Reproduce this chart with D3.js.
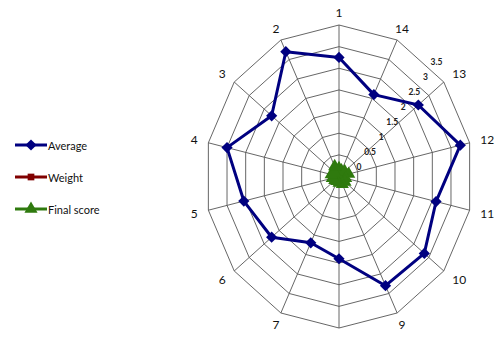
<html>
<head>
<script src="https://cdnjs.cloudflare.com/ajax/libs/d3/7.8.5/d3.min.js"></script>
<style>
  body { margin: 0; background: #fff; }
  text { font-family: Lato, "Open Sans", sans-serif; }
</style>
</head>
<body>
<svg id="chart" width="495" height="337"></svg>
<script>
// axis order: 1 at top, going clockwise 14,13,...,2
var axes = ["1","14","13","12","11","10","9","8","7","6","5","4","3","2"];
// values listed in the same order as axes
var average    = [2.75, 2.1, 2.65, 3.25, 2.6, 2.85, 2.8, 1.9, 1.7, 2.25, 2.55, 3.0, 2.25, 3.2];
var weight     = [0.07, 0.07, 0.07, 0.08, 0.07, 0.07, 0.07, 0.08, 0.07, 0.06, 0.07, 0.07, 0.07, 0.08];
var finalScore = [0.19, 0.15, 0.19, 0.26, 0.18, 0.2, 0.2, 0.15, 0.12, 0.14, 0.18, 0.21, 0.16, 0.26];
var ticks = [0, 0.5, 1, 1.5, 2, 2.5, 3, 3.5];
var seriesNames = ["Average", "Weight", "Final score"];
var seriesColors = ["#000080", "#800000", "#2f7a0e"];

var W = 495, H = 337;
var svg = d3.select("#chart");
var cx = 339, cy = 176.5;

// plot area is a bit squeezed horizontally
var rx = d3.scaleLinear().domain([0, 3.5]).range([0, 134]);
var ry = d3.scaleLinear().domain([0, 3.5]).range([0, 151.5]);
var angle = d3.scaleLinear().domain([0, axes.length]).range([0, 2 * Math.PI]);

function px(i, v) { return cx + rx(v) * Math.sin(angle(i)); }
function py(i, v) { return cy - ry(v) * Math.cos(angle(i)); }

var grid = svg.append("g");
// rings
ticks.slice(1).forEach(function(t) {
  var pts = axes.map(function(a, i) { return [px(i, t), py(i, t)]; });
  grid.append("path")
    .attr("d", d3.line()(pts) + "Z")
    .attr("fill", "none")
    .attr("stroke", "#555")
    .attr("stroke-width", 0.9);
});
// spokes
grid.selectAll("line.spoke")
  .data(axes)
  .enter()
  .append("line")
  .attr("class", "spoke")
  .attr("x1", cx).attr("y1", cy)
  .attr("x2", function(d, i) { return px(i, 3.5); })
  .attr("y2", function(d, i) { return py(i, 3.5); })
  .attr("stroke", "#555")
  .attr("stroke-width", 0.9);

// axis category labels (the one at the bottom falls below the picture)
var cats = axes.map(function(d, i) {
  return {
    name: d,
    x: px(i, 3.5) + 11 * Math.sin(angle(i)),
    y: py(i, 3.5) - 13 * Math.cos(angle(i)),
    s: Math.sin(angle(i))
  };
}).filter(function(c) { return c.y < H - 6; });

svg.selectAll("text.cat")
  .data(cats)
  .enter()
  .append("text")
  .attr("class", "cat")
  .attr("x", function(d) { return d.x; })
  .attr("y", function(d) { return d.y; })
  .attr("text-anchor", function(d) {
    return d.s > 0.5 ? "start" : (d.s < -0.5 ? "end" : "middle");
  })
  .attr("dominant-baseline", "central")
  .attr("font-size", 12)
  .attr("fill", "#111")
  .text(function(d) { return d.name; });

// value tick labels, run diagonally up-right
var tickAngle = 40 * Math.PI / 180;
svg.selectAll("text.tick")
  .data(ticks)
  .enter()
  .append("text")
  .attr("class", "tick")
  .attr("x", function(d) { return cx + 20 + 0.9 * rx(d) * Math.sin(tickAngle); })
  .attr("y", function(d) { return cy - 10 - 0.9 * ry(d) * Math.cos(tickAngle); })
  .attr("text-anchor", "middle")
  .attr("dominant-baseline", "central")
  .attr("font-size", 8.5)
  .attr("font-weight", "bold")
  .attr("fill", "#222")
  .text(function(d) { return d; });

var diamond = d3.symbol().type(d3.symbolDiamond2).size(80);
var square = d3.symbol().type(d3.symbolSquare).size(45);
var triangle = d3.symbol().type(d3.symbolTriangle).size(75);
var shapes = [diamond, square, triangle];

var data = [average, weight, finalScore];
data.forEach(function(vals, k) {
  var pts = vals.map(function(v, i) { return [px(i, v), py(i, v)]; });
  var g = svg.append("g");
  g.append("path")
    .attr("d", d3.line()(pts) + "Z")
    // the small final-score ring is packed solid by its markers
    .attr("fill", k === 2 ? seriesColors[k] : "none")
    .attr("stroke", seriesColors[k])
    .attr("stroke-width", 3)
    .attr("stroke-linejoin", "round");
  g.selectAll("path.mk")
    .data(pts)
    .enter()
    .append("path")
    .attr("class", "mk")
    .attr("transform", function(p) { return "translate(" + p[0] + "," + p[1] + ")"; })
    .attr("d", shapes[k]())
    .attr("fill", seriesColors[k]);
});

// legend
var legY = d3.scalePoint().domain(seriesNames).range([145, 209]);
var leg = svg.append("g");
seriesNames.forEach(function(name, k) {
  var y = legY(name);
  leg.append("line")
    .attr("x1", 15).attr("x2", 47).attr("y1", y).attr("y2", y)
    .attr("stroke", seriesColors[k]).attr("stroke-width", 3);
  leg.append("path")
    .attr("transform", "translate(31," + y + ")")
    .attr("d", shapes[k]())
    .attr("fill", seriesColors[k]);
  leg.append("text")
    .attr("x", 48).attr("y", y)
    .attr("dominant-baseline", "central")
    .attr("font-size", 11)
    .attr("fill", "#111")
    .text(name);
});
</script>
</body>
</html>
